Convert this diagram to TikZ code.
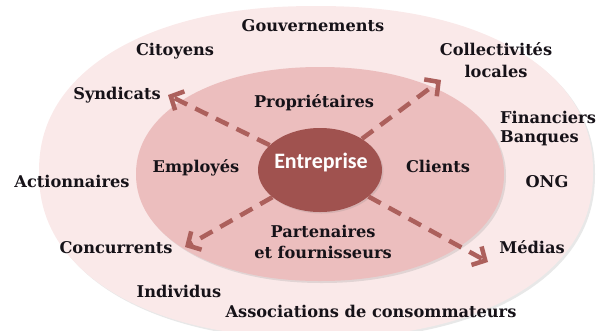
\documentclass[tikz,border=0pt]{standalone}
\usepackage{fontspec}
\setmainfont{DejaVu Serif}
\newfontfamily\entfont{Carlito}
\usetikzlibrary{arrows.meta,shadows,shapes.geometric}
\definecolor{outerpink}{RGB}{250,233,233}
\definecolor{innerpink}{RGB}{236,190,190}
\definecolor{corered}{RGB}{160,82,79}
\definecolor{arrowred}{RGB}{172,96,92}
\definecolor{txt}{RGB}{22,18,24}
\begin{document}
\begin{tikzpicture}[x=1pt,y=-1pt,
  lbl/.style={font=\fontsize{16.2}{22}\selectfont\bfseries, text=txt, inner sep=0pt, anchor=base, align=center},
  lblL/.style={lbl, anchor=base west, align=left},
  arr/.style={draw=arrowred, line width=4.5pt, dash pattern=on 14pt off 9pt,
    -{Straight Barb[length=10pt,width=21pt,line width=4.5pt]}}
]
\useasboundingbox (0,0) rectangle (596,330);
% outer ring (slightly squarish ellipse)
\fill[outerpink, drop shadow={shadow xshift=2pt,shadow yshift=-2pt,opacity=.18}]
  plot[domain=0:360, samples=240, smooth]
  ({316+277*cos(\x)*pow(abs(cos(\x))+0.0001,-0.09)},{172+166*sin(\x)*pow(abs(sin(\x))+0.0001,-0.09)}) -- cycle;
\coordinate (outer) at (316,172);
% inner ring
\fill[innerpink, drop shadow={shadow xshift=2pt,shadow yshift=-2pt,opacity=.2}]
  plot[domain=0:360, samples=240, smooth]
  ({320+184*cos(\x)*pow(abs(cos(\x))+0.0001,-0.05)},{174+107*sin(\x)*pow(abs(sin(\x))+0.0001,-0.05)}) -- cycle;
\coordinate (inner) at (320,174);
\node[ellipse, fill=corered, minimum width=124pt, minimum height=84pt, inner sep=0pt,
      drop shadow={shadow xshift=1.5pt,shadow yshift=-1.5pt,opacity=.2}] (ent) at (320,170) {};
\node[font=\entfont\fontsize{22}{24}\selectfont\bfseries, text=white, anchor=base, inner sep=0pt] (entlbl) at (321,168) {Entreprise};
% outer labels
\node[lbl] (gouv) at (313,31) {Gouvernements};
\node[lbl] (cit) at (175,55) {Citoyens};
\node[lbl] (coll) at (496,77) {Collectivités\\locales};
\node[lbl] (synd) at (117,99) {Syndicats};
\node[lblL] (fin) at (500,142) {Financiers\\[-3pt]Banques};
\node[lbl] (act) at (72,187) {Actionnaires};
\node[lbl] (ong) at (547,187) {ONG};
\node[lbl] (conc) at (116,253) {Concurrents};
\node[lbl] (med) at (532,253) {Médias};
\node[lbl] (ind) at (179,297) {Individus};
\node[lbl] (assoc) at (371,317) {Associations de consommateurs};
% inner labels
\node[lbl] (prop) at (314,107) {Propriétaires};
\node[lbl] (emp) at (196,172) {Employés};
\node[lbl] (cli) at (438,172) {Clients};
\node[lbl] (part) at (323,258) {Partenaires\\[-1pt]et fournisseurs};
% arrows
\coordinate (tS) at (168,95);
\coordinate (tC) at (441,80);
\coordinate (tK) at (185,247);
\coordinate (tM) at (488,262);
\draw[arr] (ent) -- (tS);
\draw[arr] (ent) -- (tC);
\draw[arr] (ent) -- (tK);
\draw[arr] (ent) -- (tM);
\end{tikzpicture}
\end{document}
